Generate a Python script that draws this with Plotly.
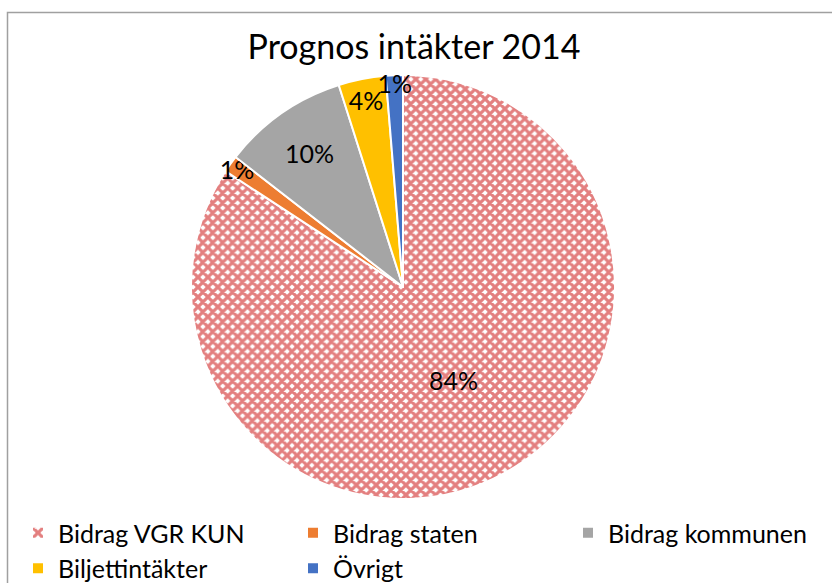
import plotly.graph_objects as go

categories = ["Bidrag VGR KUN", "Bidrag staten", "Bidrag kommunen", "Biljettintäkter", "Övrigt"]
values = [84.2, 1.3, 9.6, 3.6, 1.3]
colors = ["#ffffff", "#ED7D31", "#A5A5A5", "#FFC000", "#4472C4"]
title_text = "Prognos intäkter 2014"

W, H = 832, 583
L, R, T, B = 0, 0, 75, 84
plot_h = H - T - B

fig = go.Figure(go.Pie(
    labels=categories,
    values=values,
    sort=False,
    direction="clockwise",
    rotation=0,
    domain=dict(x=[0, 806 / 832], y=[0, 1]),
    marker=dict(
        colors=colors,
        line=dict(color="white", width=2),
        pattern=dict(
            shape=["x", "", "", "", ""],
            fgcolor="#C80000",
            bgcolor="white",
            size=7,
            solidity=0.7,
            fillmode="overlay",
        ),
    ),
    texttemplate="%{percent:.0%}",
    textposition="inside",
    insidetextorientation="horizontal",
    textfont=dict(family="Lato", size=25, color="black"),
    hoverinfo="label+percent",
))

fig.update_layout(
    width=W, height=H,
    margin=dict(l=L, r=R, t=T, b=B, autoexpand=False),
    paper_bgcolor="white",
    plot_bgcolor="white",
    font=dict(family="Lato", color="black"),
    title=dict(
        text=title_text,
        font=dict(family="Lato", size=34, color="black"),
        x=414 / W, xanchor="center",
        y=1 - 47 / H, yanchor="middle",
        xref="container", yref="container",
    ),
    uniformtext=dict(minsize=25, mode="show"),
    showlegend=True,
    legend=dict(
        orientation="h",
        x=18 / W, xanchor="left",
        y=(plot_h - (510 - T)) / plot_h, yanchor="top",
        font=dict(family="Lato", size=25, color="black"),
        entrywidth=230,
        entrywidthmode="pixels",
        bgcolor="rgba(0,0,0,0)",
        traceorder="normal",
    ),
    shapes=[dict(
        type="rect", xref="paper", yref="paper",
        x0=7.5 / W, x1=845 / W,
        y0=(plot_h - (12.5 - T)) / plot_h, y1=(plot_h - (600 - T)) / plot_h,
        line=dict(color="#A0A0A0", width=1.5),
        fillcolor="rgba(0,0,0,0)",
        layer="above",
    )],
)

fig.write_html("out.html")
